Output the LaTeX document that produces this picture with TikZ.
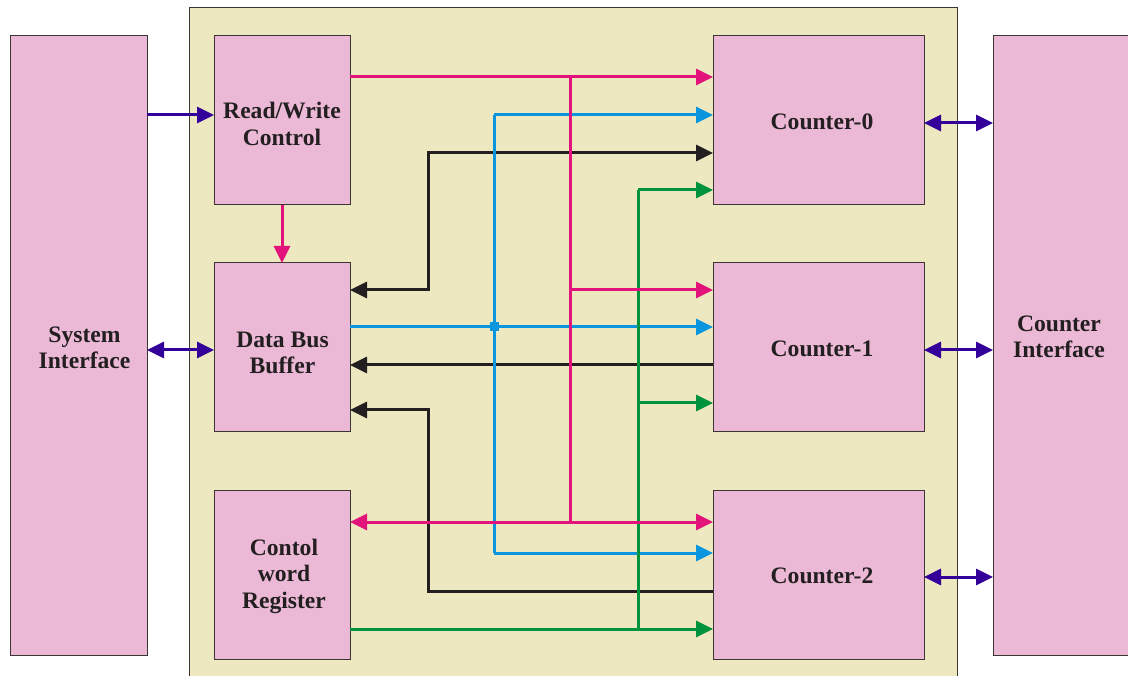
\documentclass[tikz,border=0pt]{standalone}
\usepackage{fontspec}
\setmainfont{Liberation Serif}
\usetikzlibrary{arrows.meta}
\definecolor{boxpink}{HTML}{EBB9D6}
\definecolor{panel}{HTML}{EDE8BF}
\definecolor{edge}{HTML}{3C3535}
\definecolor{cmag}{HTML}{E2137B}
\definecolor{cblue}{HTML}{0A96DF}
\definecolor{cblack}{HTML}{231F20}
\definecolor{cgreen}{HTML}{00933E}
\definecolor{cind}{HTML}{33009A}
\tikzset{
  blk/.style={draw=edge, line width=1pt, fill=boxpink, inner sep=0pt, outer sep=0pt},
  lbl/.style={align=center, font=\fontsize{23.6}{26.5}\selectfont\bfseries, text=cblack, inner sep=0pt},
  tip/.style={-{Triangle[length=17pt,width=16pt]}},
  dtip/.style={{Triangle[length=17pt,width=16pt]}-{Triangle[length=17pt,width=16pt]}},
  wire/.style={line width=3pt},
  mag/.style={wire, draw=cmag},
  blu/.style={wire, draw=cblue},
  bla/.style={wire, draw=cblack},
  gre/.style={wire, draw=cgreen},
  ind/.style={wire, draw=cind},
}
\begin{document}
\begin{tikzpicture}[x=1pt,y=-1pt]
\useasboundingbox (0,0) rectangle (1128,676);
\clip (0,0) rectangle (1128,676);
% panel
\node[draw=edge, line width=1pt, fill=panel, minimum width=768pt, minimum height=680pt, inner sep=0pt, outer sep=0pt, anchor=north west] (pan) at (189,8) {};
% outer interfaces
\node[blk, minimum width=137pt, minimum height=619pt] (si) at (78.5,345.5) {};
\node[lbl] (sit) at (84.5,348) {System\\Interface};
\node[blk, minimum width=147pt, minimum height=619pt, anchor=west] (ci) at (993,345.5) {};
\node[lbl] (cit) at (1059,337) {Counter\\Interface};
% inner blocks
\node[blk, minimum width=136pt, minimum height=169pt] (rw) at (282,120.5) {};
\node[lbl] (rwt) at (282,124) {Read/Write\\Control};
\node[blk, minimum width=136pt, minimum height=169pt] (dbb) at (282,347.5) {};
\node[lbl] (dbbt) at (282.5,353) {Data Bus\\Buffer};
\node[blk, minimum width=136pt, minimum height=169pt] (cwr) at (282,574.5) {};
\node[lbl] (cwrt) at (284,576) {Contol\\word\\Register};
\node[blk, minimum width=211pt, minimum height=169pt] (c0) at (818.5,120.5) {};
\node[lbl] (c0t) at (822,122) {Counter-0};
\node[blk, minimum width=211pt, minimum height=169pt] (c1) at (818.5,347.5) {};
\node[lbl] (c1t) at (822,349) {Counter-1};
\node[blk, minimum width=211pt, minimum height=169pt] (c2) at (818.5,574.5) {};
\node[lbl] (c2t) at (822,576) {Counter-2};
% bend points
\coordinate (pm) at (570,77);
\coordinate (pb) at (570,522);
\coordinate (bt) at (494,115);
\coordinate (bb) at (494,553);
\coordinate (bj) at (494,327);
\coordinate (gk) at (638,629);
\coordinate (gt) at (638,190);
% black
\draw[bla, dtip] (c0.west |- 0,153) -- (428,153) -- (428,290) -- (dbb.east |- 0,290);
\draw[bla, tip] (c1.west |- 0,365) -- (dbb.east |- 0,365);
\draw[bla, tip] (c2.west |- 0,591) -- (428,591) -- (428,410) -- (dbb.east |- 0,410);
% blue
\draw[blu] (bt) -- (bb);
\draw[blu, tip] (bt) -- (c0.west |- bt);
\draw[blu, tip] (bb) -- (c2.west |- bb);
\draw[blu, tip] (dbb.east |- bj) -- (c1.west |- bj);
\node[fill=cblue, minimum size=9pt, inner sep=0pt] (dot) at (bj) {};
% green
\draw[gre] (gk) -- (gt);
\draw[gre, tip] (gt) -- (c0.west |- gt);
\draw[gre, tip] (638,403) -- (c1.west |- 0,403);
\draw[gre, tip] (cwr.east |- gk) -- (c2.west |- gk);
% magenta
\draw[mag, tip] (rw.east |- pm) -- (c0.west |- pm);
\draw[mag] (pm) -- (pb);
\draw[mag, tip] (570,290) -- (c1.west |- 0,290);
\draw[mag, dtip] (cwr.east |- pb) -- (c2.west |- pb);
\draw[mag, tip] (rw.south) -- (dbb.north);
% indigo
\draw[ind, tip] (si.east |- 0,115) -- (rw.west |- 0,115);
\draw[ind, dtip] (si.east |- 0,350) -- (dbb.west |- 0,350);
\draw[ind, dtip] (c0.east |- 0,123) -- (ci.west |- 0,123);
\draw[ind, dtip] (c1.east |- 0,350) -- (ci.west |- 0,350);
\draw[ind, dtip] (c2.east |- 0,577) -- (ci.west |- 0,577);
\end{tikzpicture}
\end{document}
